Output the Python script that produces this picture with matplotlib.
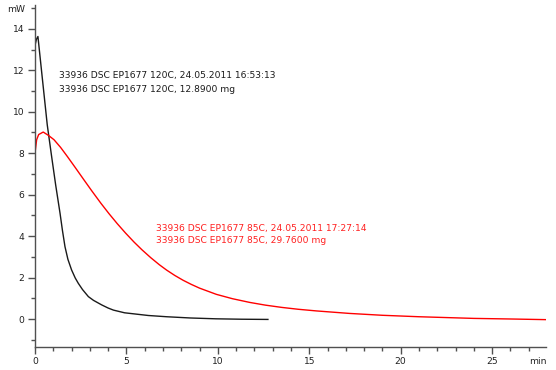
import matplotlib
matplotlib.use("Agg")
import matplotlib.pyplot as plt
from matplotlib.ticker import MultipleLocator

# DSC curve, EP1677 at 120C (time in min, heat flow in mW)
t_120 = [0.0, 0.08, 0.16, 0.4, 0.67, 0.9, 1.13, 1.37, 1.5, 1.64, 1.8, 2.0,
         2.2, 2.37, 2.6, 2.92, 3.2, 3.65, 4.0, 4.29, 4.9, 5.4, 6.2, 7.2, 8.5,
         9.9, 11.3, 12.74]
mw_120 = [13.2, 13.5, 13.63, 11.62, 9.37, 7.9, 6.47, 5.10, 4.28, 3.49, 2.88,
          2.37, 1.98, 1.72, 1.42, 1.08, 0.90, 0.68, 0.53, 0.43, 0.30, 0.25,
          0.17, 0.11, 0.05, 0.01, -0.01, -0.02]

# DSC curve, EP1677 at 85C
t_85 = [0.0, 0.09, 0.2, 0.45, 0.75, 1.04, 1.4, 1.77, 2.2, 2.68, 3.1, 3.6,
        4.05, 4.5, 4.95, 5.42, 5.85, 6.33, 6.8, 7.2, 7.65, 8.1, 8.55, 9.0,
        9.92, 10.8, 11.75, 12.6, 13.5, 14.4, 15.4, 17.2, 19.0, 21.0, 22.5,
        24.0, 26.1, 27.95]
mw_85 = [8.0, 8.65, 8.9, 9.02, 8.85, 8.65, 8.28, 7.84, 7.31, 6.71, 6.19, 5.59,
         5.08, 4.60, 4.15, 3.71, 3.34, 2.96, 2.62, 2.36, 2.10, 1.87, 1.67,
         1.49, 1.19, 0.98, 0.80, 0.67, 0.56, 0.47, 0.39, 0.27, 0.18, 0.11,
         0.07, 0.03, 0.0, -0.03]

label_120 = ["33936 DSC EP1677 120C, 24.05.2011 16:53:13",
             "33936 DSC EP1677 120C, 12.8900 mg"]
label_85 = ["33936 DSC EP1677 85C, 24.05.2011 17:27:14",
            "33936 DSC EP1677 85C, 29.7600 mg"]

FS = 6.6
AXC = "#505050"

fig = plt.figure(figsize=(5.56, 3.70), dpi=100, facecolor="white")
ax = fig.add_axes([35 / 556, 1 - 347 / 370, 511 / 556, 342 / 370])

ax.plot(t_120, mw_120, color="#1a1a1a", lw=1.0)
ax.plot(t_85, mw_85, color="#ff0000", lw=1.0)

ax.set_xlim(0, 27.95)
ax.set_ylim(-1.35, 15.15)

ax.xaxis.set_major_locator(MultipleLocator(5))
ax.xaxis.set_minor_locator(MultipleLocator(1))
ax.yaxis.set_major_locator(MultipleLocator(2))
ax.yaxis.set_minor_locator(MultipleLocator(1))
ax.set_yticks([0, 2, 4, 6, 8, 10, 12, 14])

for s in ["top", "right"]:
    ax.spines[s].set_visible(False)
for s in ["left", "bottom"]:
    ax.spines[s].set_color(AXC)
    ax.spines[s].set_linewidth(1.0)

ax.tick_params(which="major", length=5, width=1, color=AXC, labelsize=FS,
               labelcolor="#202020", pad=2.5)
ax.tick_params(which="minor", length=3, width=1, color=AXC)

# curve annotations
ax.text(1.29, 11.74, label_120[0], fontsize=FS, color="#1a1a1a", va="center")
ax.text(1.29, 11.09, label_120[1], fontsize=FS, color="#1a1a1a", va="center")
ax.text(6.62, 4.39, label_85[0], fontsize=FS, color="#ff2020", va="center")
ax.text(6.62, 3.80, label_85[1], fontsize=FS, color="#ff2020", va="center")

# unit labels
fig.text(16 / 556, 1 - 9 / 370, "mW", fontsize=FS, ha="center", va="center",
         color="#202020")
fig.text(538 / 556, 1 - 361 / 370, "min", fontsize=FS, ha="center", va="center",
         color="#202020")

fig.savefig("out.png", dpi=100, facecolor="white")
